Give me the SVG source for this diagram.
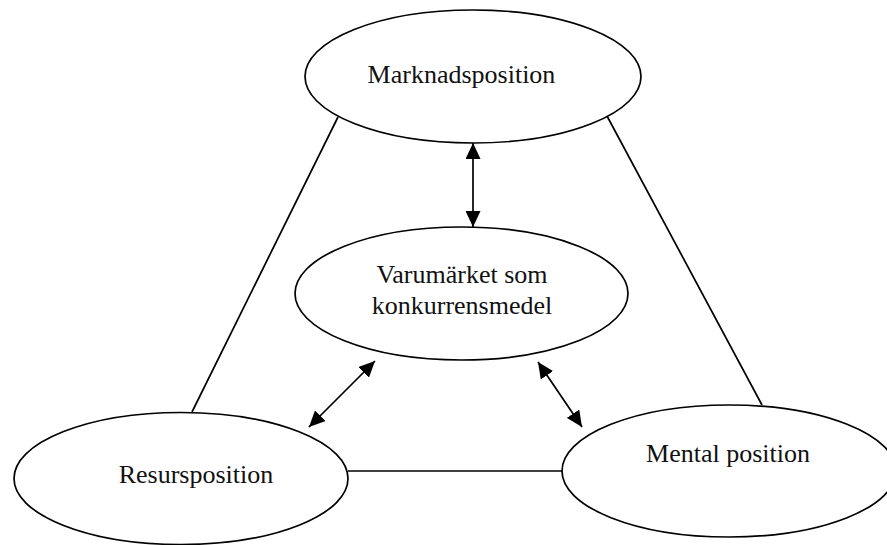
<svg xmlns="http://www.w3.org/2000/svg" width="887" height="545" viewBox="0 0 887 545">
<style>
.node{fill:#fff;stroke:#000;stroke-width:1.7}
.lbl{font-family:"Liberation Serif","Times New Roman",serif;font-size:26px;fill:#111;text-anchor:middle}
.conn{stroke:#000;stroke-width:1.7;fill:none}
</style>
<defs>
<marker id="ah" viewBox="0 0 16 15" refX="16" refY="7.5" markerWidth="16" markerHeight="15" markerUnits="userSpaceOnUse" orient="auto-start-reverse">
<path d="M0,0 L16,7.5 L0,15 z" fill="#000"/>
</marker>
</defs>
<g id="connectors">
<line class="conn" x1="338" y1="117" x2="192" y2="412"/>
<line class="conn" x1="607" y1="116" x2="762" y2="405"/>
<line class="conn" x1="348" y1="471" x2="562" y2="471"/>
<line class="conn" x1="473" y1="143" x2="473" y2="227" marker-start="url(#ah)" marker-end="url(#ah)"/>
<line class="conn" x1="375" y1="361" x2="309" y2="427" marker-start="url(#ah)" marker-end="url(#ah)"/>
<line class="conn" x1="538" y1="362" x2="582" y2="427" marker-start="url(#ah)" marker-end="url(#ah)"/>
</g>
<g id="marknadsposition">
<ellipse class="node" cx="473" cy="76.5" rx="168" ry="66.5"/>
<text class="lbl" x="461.5" y="83">Marknadsposition</text>
</g>
<g id="varumarket">
<ellipse class="node" cx="461.5" cy="293.5" rx="166.5" ry="66.5"/>
<text class="lbl" x="462" y="283">Varumärket som</text>
<text class="lbl" x="462" y="314">konkurrensmedel</text>
</g>
<g id="resursposition">
<ellipse class="node" cx="181" cy="478.5" rx="167" ry="66"/>
<text class="lbl" x="196" y="483">Resursposition</text>
</g>
<g id="mentalposition">
<ellipse class="node" cx="729" cy="471" rx="167" ry="66"/>
<text class="lbl" x="728" y="462">Mental position</text>
</g>
</svg>
